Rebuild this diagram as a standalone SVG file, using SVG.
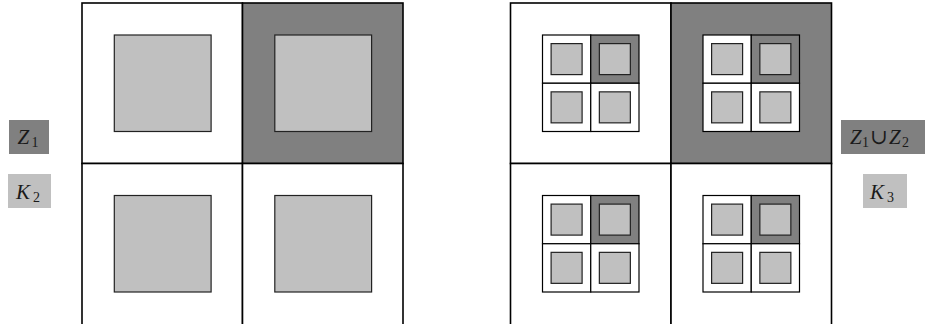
<svg xmlns="http://www.w3.org/2000/svg" xmlns:xlink="http://www.w3.org/1999/xlink" width="925" height="324" viewBox="0 0 925 324">
<style>
.w{fill:#ffffff;stroke:#000;stroke-width:1.6}
.d{fill:#808080;stroke:#000;stroke-width:1.6}
.sw{fill:#ffffff;stroke:#000;stroke-width:1.2}
.sd{fill:#808080;stroke:#000;stroke-width:1.2}
.l{fill:#c0c0c0;stroke:#222;stroke-width:1.2}
.lab{font-family:"Liberation Serif","DejaVu Serif",serif;font-size:21px;fill:#1a1a1a}
.it{font-style:italic}
.sub{font-size:14px}
</style>
<defs>
<g id="subgrid">
<rect class="sw" x="0" y="0" width="48.25" height="48.25"/>
<rect class="sd" x="48.25" y="0" width="48.25" height="48.25"/>
<rect class="sw" x="0" y="48.25" width="48.25" height="48.25"/>
<rect class="sw" x="48.25" y="48.25" width="48.25" height="48.25"/>
<rect class="l" x="8.6" y="8.6" width="31" height="31"/>
<rect class="l" x="56.85" y="8.6" width="31" height="31"/>
<rect class="l" x="8.6" y="56.85" width="31" height="31"/>
<rect class="l" x="56.85" y="56.85" width="31" height="31"/>
</g>
</defs>
<g id="left-grid">
<rect class="w" x="82" y="3" width="160.5" height="160.5"/>
<rect class="d" x="242.5" y="3" width="160.5" height="160.5"/>
<rect class="w" x="82" y="163.5" width="160.5" height="162"/>
<rect class="w" x="242.5" y="163.5" width="160.5" height="162"/>
<rect class="l" x="114.3" y="35" width="96.8" height="96.5"/>
<rect class="l" x="274.8" y="35" width="96.8" height="96.5"/>
<rect class="l" x="114.3" y="195.5" width="96.8" height="96.5"/>
<rect class="l" x="274.8" y="195.5" width="96.8" height="96.5"/>
</g>
<g id="right-grid">
<rect class="w" x="510.5" y="3" width="160.5" height="160.5"/>
<rect class="d" x="671" y="3" width="160.5" height="160.5"/>
<rect class="w" x="510.5" y="163.5" width="160.5" height="162"/>
<rect class="w" x="671" y="163.5" width="160.5" height="162"/>
<use xlink:href="#subgrid" x="542.5" y="35"/>
<use xlink:href="#subgrid" x="703" y="35"/>
<use xlink:href="#subgrid" x="542.5" y="195.5"/>
<use xlink:href="#subgrid" x="703" y="195.5"/>
</g>
<g id="label-z1">
<rect x="9" y="120" width="40" height="34" fill="#808080"/>
<text class="lab" y="144"><tspan class="it" x="17.5">Z</tspan><tspan class="sub" x="31.5" dy="3">1</tspan></text>
</g>
<g id="label-k2">
<rect x="8" y="174" width="43" height="34" fill="#c0c0c0"/>
<text class="lab" y="199"><tspan class="it" x="16">K</tspan><tspan class="sub" x="33" dy="3">2</tspan></text>
</g>
<g id="label-z1z2">
<rect x="841" y="120" width="84" height="34" fill="#808080"/>
<text class="lab" y="144"><tspan class="it" x="850">Z</tspan><tspan class="sub" x="862" dy="3">1</tspan></text>
<text class="lab" x="870" y="144" font-family="DejaVu Serif" font-size="18">∪</text>
<text class="lab" y="144"><tspan class="it" x="889">Z</tspan><tspan class="sub" x="902" dy="3">2</tspan></text>
</g>
<g id="label-k3">
<rect x="863" y="174" width="44" height="34" fill="#c0c0c0"/>
<text class="lab" y="199"><tspan class="it" x="870">K</tspan><tspan class="sub" x="887" dy="3">3</tspan></text>
</g>
</svg>
